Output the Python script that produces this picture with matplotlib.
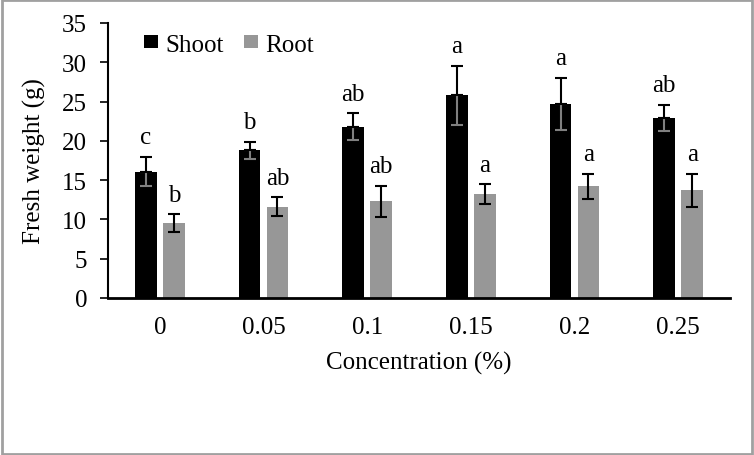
import numpy as np
import matplotlib
matplotlib.use('Agg')
import matplotlib.pyplot as plt
from matplotlib.patches import Rectangle

plt.rcParams['font.family'] = ['Liberation Serif', 'DejaVu Serif']

concentrations = ['0', '0.05', '0.1', '0.15', '0.2', '0.25']
shoot = [16.1, 18.8, 21.8, 25.8, 24.7, 22.9]
shoot_err = [1.9, 1.1, 1.7, 3.75, 3.3, 1.7]
root = [9.5, 11.6, 12.3, 13.2, 14.2, 13.7]
root_err = [1.15, 1.2, 2.0, 1.25, 1.6, 2.1]
shoot_letters = ['c', 'b', 'ab', 'a', 'a', 'ab']
root_letters = ['b', 'ab', 'ab', 'a', 'a', 'a']

fs = 18

fig = plt.figure(figsize=(7.54, 4.56), dpi=100)
ax = fig.add_axes([108/754, 1 - 299/456, 622/754, 275/456])

x = np.arange(len(concentrations))
w = 0.21
off = 0.135

ax.bar(x - off, shoot, w, color='black', label='Shoot')
ax.bar(x + off, root, w, color='#979797', label='Root')

# shoot error bars: lower part shows grey over the black bar
ax.errorbar(x - off, shoot, yerr=[shoot_err, np.zeros(6)], fmt='none',
            ecolor='#808080', elinewidth=1.5, capsize=4, capthick=1.5)
ax.errorbar(x - off, shoot, yerr=[np.zeros(6), shoot_err], fmt='none',
            ecolor='black', elinewidth=1.5, capsize=4, capthick=1.5)
ax.errorbar(x + off, root, yerr=root_err, fmt='none',
            ecolor='black', elinewidth=1.5, capsize=4, capthick=1.5)

for i in range(len(x)):
    ax.text(x[i] - off, shoot[i] + shoot_err[i] + 1.1, shoot_letters[i],
            ha='center', va='bottom', fontsize=fs)
    ax.text(x[i] + off, root[i] + root_err[i] + 1.1, root_letters[i],
            ha='center', va='bottom', fontsize=fs)

ax.set_xlim(-0.5, 5.5)
ax.set_ylim(0, 35)
ax.set_yticks(range(0, 36, 5))
ax.set_xticks(x)
ax.set_xticklabels(concentrations)
ax.tick_params(axis='x', length=0, labelsize=fs, pad=13)
ax.tick_params(axis='y', length=6, width=1.2, labelsize=fs, pad=9)
ax.set_xlabel('Concentration (%)', fontsize=fs, labelpad=9)
ax.set_ylabel('Fresh weight (g)', fontsize=fs, labelpad=12)

for s in ['top', 'right']:
    ax.spines[s].set_visible(False)
ax.spines['left'].set_linewidth(1.5)
ax.spines['bottom'].set_linewidth(2)

ax.legend(loc='upper left', bbox_to_anchor=(0.03, 1.025), ncol=2, frameon=False,
          fontsize=fs, handlelength=0.55, handleheight=0.4, handletextpad=0.3,
          columnspacing=0.8, borderpad=0.2)

fig.patches.append(Rectangle((0.002, 0.003), 0.995, 0.994, transform=fig.transFigure,
                             fill=False, edgecolor='#a0a0a0', linewidth=2))

fig.savefig('out.png', dpi=100)
